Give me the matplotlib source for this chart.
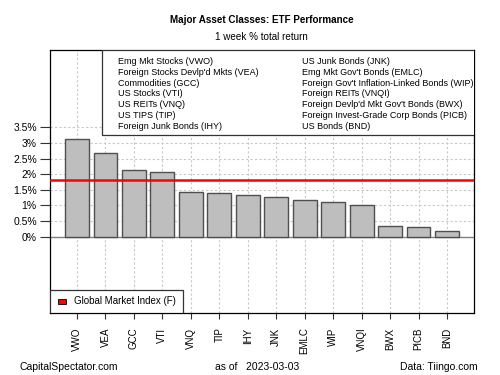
import matplotlib
matplotlib.use("Agg")
import matplotlib.pyplot as plt
from matplotlib.patches import Rectangle

plt.rcParams['font.family'] = ['Liberation Sans', 'DejaVu Sans']

tickers = ["VWO", "VEA", "GCC", "VTI", "VNQ", "TIP", "IHY", "JNK", "EMLC", "WIP", "VNQI", "BWX", "PICB", "BND"]
returns = [3.14, 2.69, 2.13, 2.08, 1.44, 1.39, 1.33, 1.27, 1.18, 1.12, 1.01, 0.34, 0.30, 0.18]
global_index = 1.82
yticks = [0, 0.5, 1, 1.5, 2, 2.5, 3, 3.5]
ytick_labels = ["0%", "0.5%", "1%", "1.5%", "2%", "2.5%", "3%", "3.5%"]
legend_col1 = ["Emg Mkt Stocks (VWO)", "Foreign Stocks Devlp'd Mkts (VEA)", "Commodities (GCC)",
               "US Stocks (VTI)", "US REITs (VNQ)", "US TIPS (TIP)", "Foreign Junk Bonds (IHY)"]
legend_col2 = ["US Junk Bonds (JNK)", "Emg Mkt Gov't Bonds (EMLC)", "Foreign Gov't Inflation-Linked Bonds (WIP)",
               "Foreign REITs (VNQI)", "Foreign Devlp'd Mkt Gov't Bonds (BWX)",
               "Foreign Invest-Grade Corp Bonds (PICB)", "US Bonds (BND)"]

W, H = 424.0, 263.0  # axes size in px
fig = plt.figure(figsize=(5, 3.75), dpi=100)
ax = fig.add_axes([50 / 500, 1 - 313 / 375, W / 500, H / 375])
x = list(range(len(tickers)))
ax.set_xlim(-0.95, len(tickers) - 1 + 0.95)
ax.set_ylim(-2.45, 5.98)

# grid
for xi in x:
    ax.axvline(xi, color="#c8c8c8", lw=0.8, ls=(0, (2, 2)), zorder=0)
for yt in yticks[1:]:
    ax.axhline(yt, color="#c8c8c8", lw=0.8, ls=(0, (2, 2)), zorder=0)
ax.axhline(0, color="#808080", lw=1.0, zorder=1)

ax.bar(x, returns, width=0.84, color="#bebebe", edgecolor="#505050", lw=1.0, zorder=2)
ax.axhline(global_index, color="#ff0000", lw=1.8, zorder=3)

ax.set_yticks(yticks)
ax.set_yticklabels(ytick_labels, fontsize=7.5)
ax.set_xticks(x)
ax.set_xticklabels(tickers, rotation=90, fontsize=7)
ax.tick_params(axis='y', length=7, color="#333333", pad=2.5)
ax.tick_params(axis='x', length=4.5, color="#333333", pad=6)
for s in ax.spines.values():
    s.set_linewidth(0.9)

# top legend box
leg = Rectangle(((102 - 50) / W, 1 - (135 - 50) / H), 1.0, (135 - 50) / H, transform=ax.transAxes,
                facecolor="white", edgecolor="#333333", lw=0.9, zorder=4, clip_on=True)
ax.add_patch(leg)
for i, (a, b) in enumerate(zip(legend_col1, legend_col2)):
    yy = 1 - (11.5 + i * 10.8) / H
    ax.text((118 - 50) / W, yy, a, transform=ax.transAxes, fontsize=6.5, va="center", ha="left", zorder=6)
    ax.text((302 - 50) / W, yy, b, transform=ax.transAxes, fontsize=6.5, va="center", ha="left", zorder=6)

# bottom legend box
bl = Rectangle((0, 0), (183 - 50) / W, (313 - 289.5) / H, transform=ax.transAxes,
               facecolor="white", edgecolor="#333333", lw=0.9, zorder=4)
ax.add_patch(bl)
ax.add_patch(Rectangle((7.5 / W, 9 / H), 8.5 / W, 5.5 / H, transform=ax.transAxes,
                       facecolor="#ff0000", edgecolor="#000000", lw=0.6, zorder=6))
ax.text(23.5 / W, 11.5 / H, "Global Market Index (F)", transform=ax.transAxes,
        fontsize=7, va="center", ha="left", zorder=6)

fig.text(261.5 / 500, 1 - 20 / 375, "Major Asset Classes: ETF Performance", ha="center", va="center",
         fontsize=7.1, fontweight="bold")
fig.text(261.5 / 500, 1 - 37 / 375, "1 week % total return", ha="center", va="center", fontsize=7.1)
fig.text(20 / 500, 1 - 367 / 375, "CapitalSpectator.com", ha="left", va="center", fontsize=7.5)
fig.text(215 / 500, 1 - 367 / 375, "as of   2023-03-03", ha="left", va="center", fontsize=7.5)
fig.text(478 / 500, 1 - 367 / 375, "Data: Tiingo.com", ha="right", va="center", fontsize=7.5)

fig.savefig("out.png", dpi=100)
